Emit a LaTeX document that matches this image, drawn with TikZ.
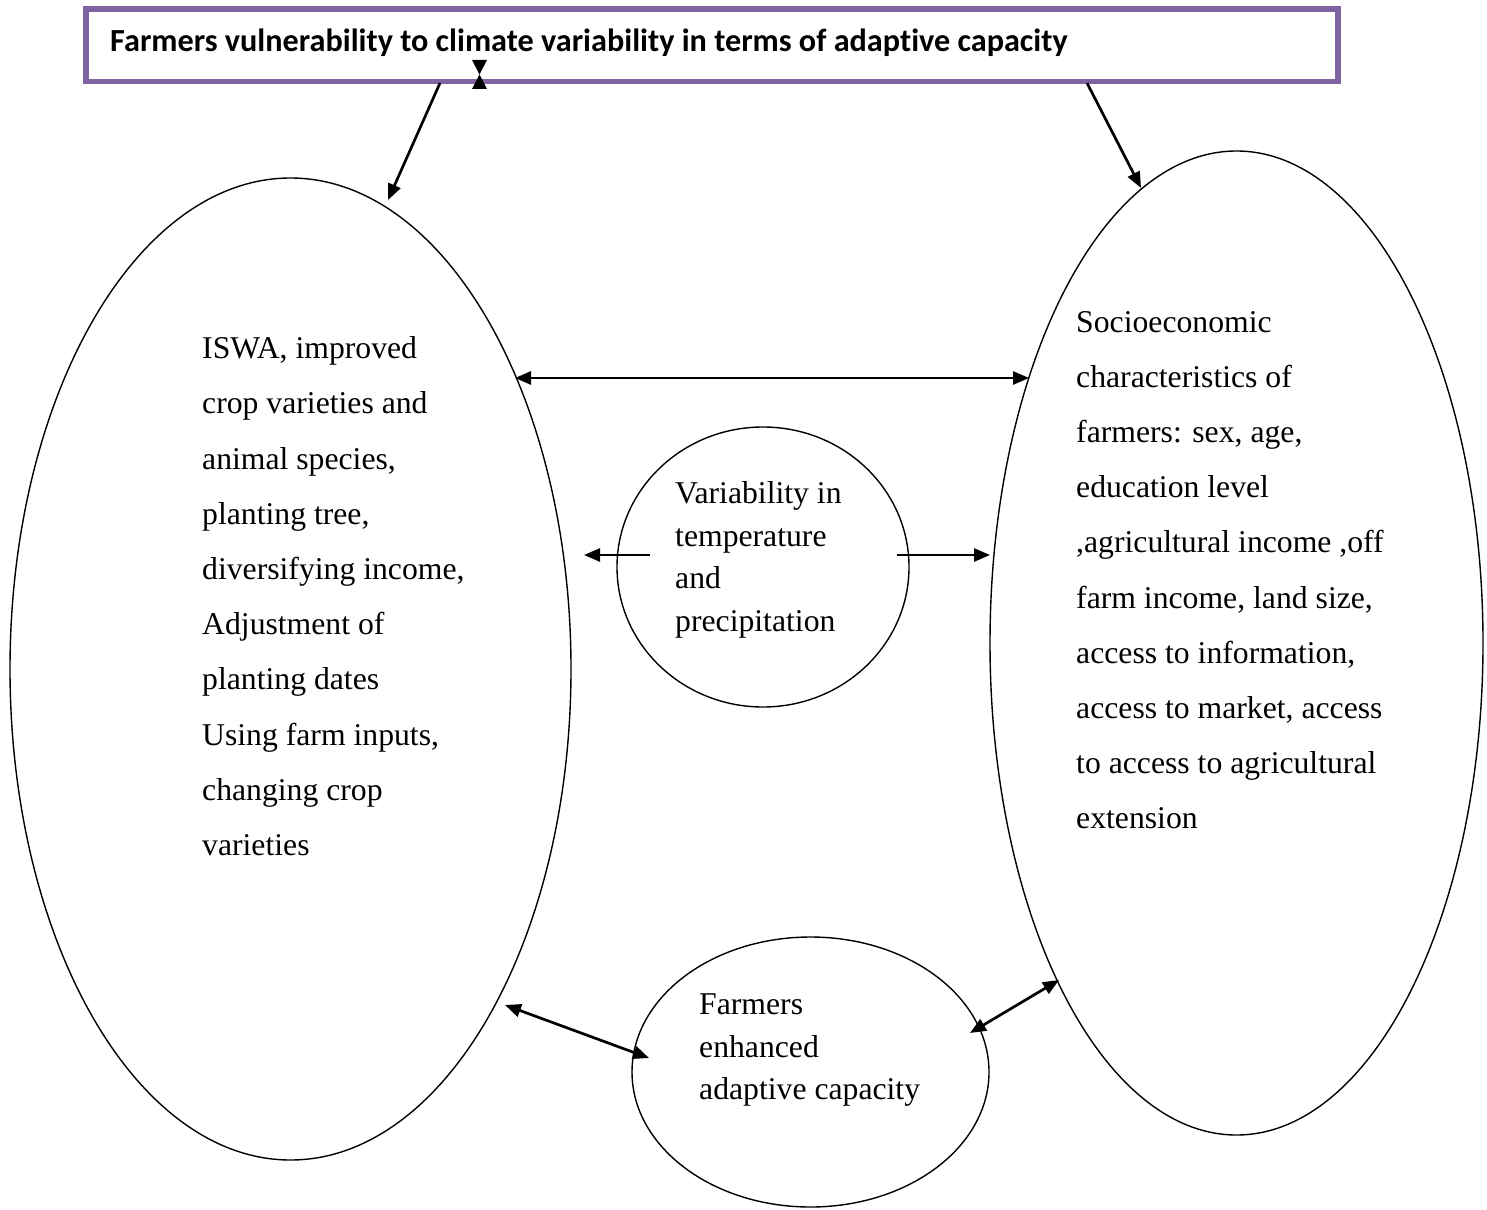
\documentclass[tikz,border=0pt]{standalone}
\usepackage{fontspec}
\setmainfont{Liberation Serif}
\newfontfamily\hdrfont[Ligatures=NoCommon]{Carlito}
\usetikzlibrary{shapes.geometric,arrows.meta}
\definecolor{boxpurple}{HTML}{8064A2}
\tikzset{
  oval/.style={draw=black, line width=1.4pt, ellipse, inner sep=0pt},
  conn/.style={line width=2.7pt, -{Triangle[length=16pt,width=13pt]}},
  bconn/.style={line width=2.7pt, {Triangle[length=16pt,width=13pt]}-{Triangle[length=16pt,width=13pt]}},
  bigtxt/.style={font=\fontsize{31.7}{55.2}\selectfont, align=left, anchor=north west, inner sep=0pt},
  smalltxt/.style={font=\fontsize{31.7}{42.6}\selectfont, align=left, anchor=north west, inner sep=0pt},
}
\begin{document}
\begin{tikzpicture}[x=1pt,y=-1pt]
\useasboundingbox (0,0) rectangle (1487,1209);
% top box
\node[draw=boxpurple, line width=5.5pt, minimum width=1252pt, minimum height=72.5pt, inner sep=0pt] (top) at (712,45.25) {};
\node[anchor=west, inner sep=0pt, font=\hdrfont\bfseries\fontsize{32.2}{38}\selectfont] (toptxt) at (110,43) {Farmers vulnerability to climate variability in terms of adaptive capacity};
% hourglass mark
\fill (472,60) -- (487,60) -- (479.5,74.5) -- cycle;
\fill (472,89) -- (487,89) -- (479.5,74.5) -- cycle;
% ellipses
\node[oval, minimum width=561pt, minimum height=982pt] (L) at (290.5,669) {};
\node[oval, minimum width=493pt, minimum height=984pt] (R) at (1236.5,643) {};
\node[oval, minimum width=292pt, minimum height=280pt] (M) at (763,567) {};
\node[oval, minimum width=357pt, minimum height=270pt] (B) at (810.5,1072) {};
% texts
\node[bigtxt] (Ltxt) at (202,336.5) {ISWA, improved\\crop varieties and\\animal species,\\planting tree,\\diversifying income,\\Adjustment of\\planting dates\\Using farm inputs,\\changing crop\\varieties};
\node[bigtxt] (Rtxt) at (1076,311) {Socioeconomic\\characteristics of\\farmers: sex, age,\\education level\\,agricultural income ,off\\farm income, land size,\\access to information,\\access to market, access\\to access to agricultural\\extension};
\node[smalltxt] (Mtxt) at (675,481.5) {Variability in\\temperature\\and\\precipitation};
\node[smalltxt] (Btxt) at (699,993.5) {Farmers\\enhanced\\adaptive capacity};
% connector end points
\coordinate (t1) at (440,83);
\coordinate (l1) at (388,200);
\coordinate (t2) at (1087,83);
\coordinate (r1) at (1141,188);
\coordinate (lh) at (515,378);
\coordinate (rh) at (1029,378);
\coordinate (m1) at (650,555);
\coordinate (l2) at (584,555);
\coordinate (m2) at (897,555);
\coordinate (r2) at (990,555);
\coordinate (l3) at (505,1005);
\coordinate (b1) at (649,1058);
\coordinate (b2) at (970,1033);
\coordinate (r3) at (1059,980);
% connectors
\draw[conn] (t1) -- (l1);
\draw[conn] (t2) -- (r1);
\draw[bconn] (lh) -- (rh);
\draw[conn] (m1) -- (l2);
\draw[conn] (m2) -- (r2);
\draw[bconn] (l3) -- (b1);
\draw[bconn] (b2) -- (r3);
\end{tikzpicture}
\end{document}
